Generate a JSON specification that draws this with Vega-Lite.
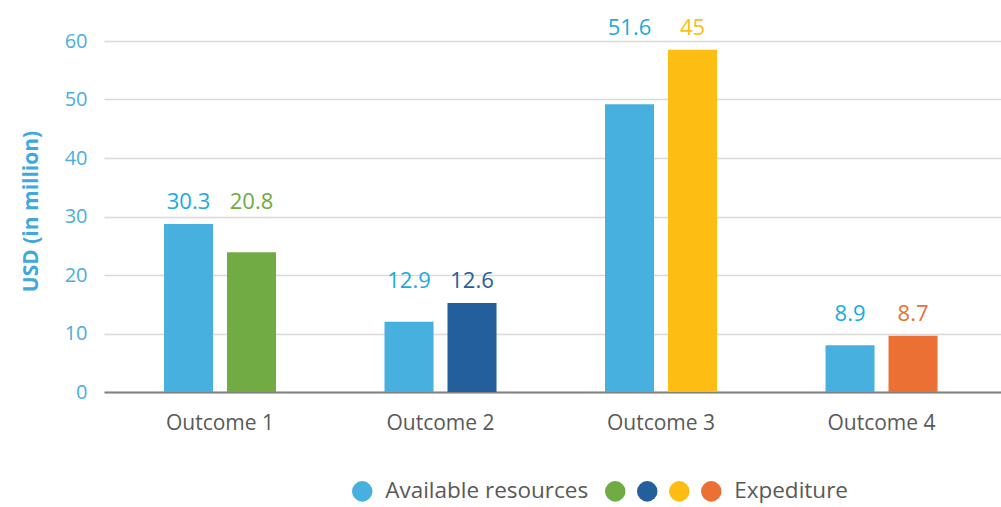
{
  "$schema": "https://vega.github.io/schema/vega-lite/v6.json",
  "width": 897,
  "height": 351,
  "autosize": {"type": "none"},
  "padding": {"left": 104, "top": 41, "right": 0, "bottom": 115},
  "background": "white",
  "config": {
    "view": {"stroke": null},
    "font": "Open Sans"
  },
  "data": {
    "values": [
      {"outcome": "Outcome 1", "series": "Available resources", "key": "Available resources", "value": 28.7, "label": "30.3"},
      {"outcome": "Outcome 1", "series": "Expenditure", "key": "Expenditure 1", "value": 23.9, "label": "20.8"},
      {"outcome": "Outcome 2", "series": "Available resources", "key": "Available resources", "value": 12.0, "label": "12.9"},
      {"outcome": "Outcome 2", "series": "Expenditure", "key": "Expenditure 2", "value": 15.2, "label": "12.6"},
      {"outcome": "Outcome 3", "series": "Available resources", "key": "Available resources", "value": 49.2, "label": "51.6"},
      {"outcome": "Outcome 3", "series": "Expenditure", "key": "Expenditure 3", "value": 58.5, "label": "45"},
      {"outcome": "Outcome 4", "series": "Available resources", "key": "Available resources", "value": 8.0, "label": "8.9"},
      {"outcome": "Outcome 4", "series": "Expenditure", "key": "Expediture", "value": 9.6, "label": "8.7"}
    ]
  },
  "encoding": {
    "x": {
      "field": "outcome",
      "type": "nominal",
      "sort": ["Outcome 1", "Outcome 2", "Outcome 3", "Outcome 4"],
      "scale": {"paddingInner": 0.492, "paddingOuter": 0.28, "align": 0.486},
      "axis": {
        "title": null,
        "labelAngle": 0,
        "labelFont": "Open Sans",
        "labelFontSize": 21,
        "labelColor": "#595959",
        "labelPadding": 20,
        "ticks": false,
        "domainColor": "#808080",
        "domainWidth": 2,
        "grid": false
      }
    },
    "xOffset": {
      "field": "series",
      "type": "nominal",
      "sort": ["Available resources", "Expenditure"],
      "scale": {"paddingInner": 0.222, "paddingOuter": 0}
    }
  },
  "layer": [
    {
      "mark": {"type": "bar"},
      "encoding": {
        "y": {
          "field": "value",
          "type": "quantitative",
          "scale": {"domain": [0, 60], "nice": false},
          "axis": {
            "title": "USD (in million)",
            "titleFont": "Open Sans",
            "titleFontWeight": "bold",
            "titleFontSize": 21,
            "titleColor": "#3fa9dd",
            "titlePadding": 23,
            "titleY": 170,
            "values": [0, 10, 20, 30, 40, 50, 60],
            "labelFont": "Open Sans",
            "labelFontSize": 20,
            "labelColor": "#4aaee0",
            "labelPadding": 17,
            "ticks": false,
            "domain": false,
            "gridColor": "#d9d9d9",
            "gridWidth": 1.5
          }
        },
        "color": {
          "field": "key",
          "type": "nominal",
          "scale": {
            "domain": ["Available resources", "Expenditure 1", "Expenditure 2", "Expenditure 3", "Expediture"],
            "range": ["#48b0df", "#70ab43", "#225f9b", "#fdbd13", "#ea7034"]
          },
          "legend": {
            "title": null,
            "orient": "none",
            "legendX": 247,
            "legendY": 439,
            "direction": "horizontal",
            "padding": 0,
            "symbolType": "circle",
            "symbolSize": 420,
            "symbolStrokeWidth": 0,
            "labelFont": "Open Sans",
            "labelFontSize": 22.5,
            "labelColor": "#595959",
            "labelOffset": 0,
            "labelLimit": 400,
            "columnPadding": 9,
            "labelExpr": "datum.label == 'Available resources' ? '\u200b\u00a0\u00a0Available resources\u00a0\u200b' : (datum.label == 'Expediture' ? '\u200b\u00a0\u00a0Expediture' : '')"
          }
        }
      }
    },
    {
      "transform": [
        {"joinaggregate": [{"op": "max", "field": "value", "as": "groupMax"}], "groupby": ["outcome"]}
      ],
      "mark": {"type": "text", "baseline": "alphabetic", "align": "center", "dy": -15, "fontSize": 22, "font": "Open Sans"},
      "encoding": {
        "y": {"field": "groupMax", "type": "quantitative"},
        "text": {"field": "label"},
        "fill": {
          "field": "key",
          "type": "nominal",
          "scale": {
            "domain": ["Available resources", "Expenditure 1", "Expenditure 2", "Expenditure 3", "Expediture"],
            "range": ["#1aaadc", "#6fab3f", "#225f9b", "#fdbd13", "#ea7034"]
          },
          "legend": null
        }
      }
    }
  ]
}
